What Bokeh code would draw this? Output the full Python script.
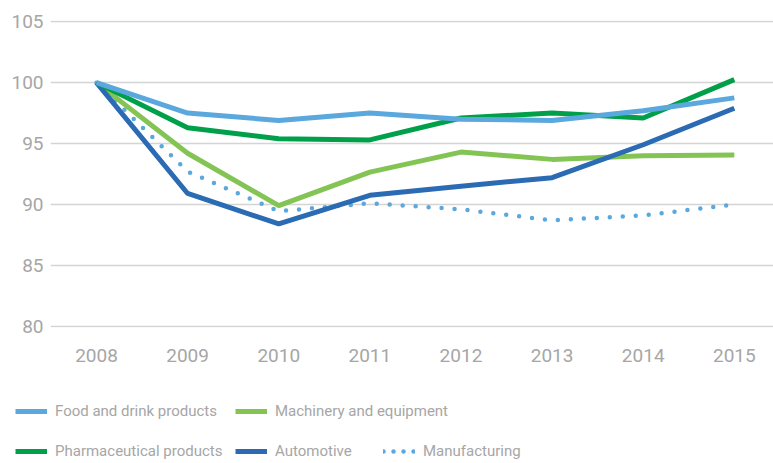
from bokeh.plotting import figure
from bokeh.layouts import column
from bokeh.models import Range1d, Legend, LegendItem, FixedTicker
from bokeh.embed import file_html
from bokeh.resources import INLINE

years = [2008, 2009, 2010, 2011, 2012, 2013, 2014, 2015]
food = [100, 97.5, 96.9, 97.5, 97.0, 96.9, 97.7, 98.75]
pharma = [100, 96.3, 95.4, 95.3, 97.1, 97.5, 97.1, 100.25]
machinery = [100, 94.2, 89.9, 92.65, 94.3, 93.7, 94.0, 94.05]
automotive = [100, 90.9, 88.4, 90.75, 91.5, 92.2, 94.9, 97.9]
manufacturing = [100, 92.7, 89.45, 90.1, 89.6, 88.7, 89.1, 90.0]
y_ticks = [80, 85, 90, 95, 100, 105]

FONT = "Roboto"
GREY = "#a6a6a6"
c_food = "#5aa8dd"
c_pharma = "#00a04b"
c_mach = "#84c455"
c_auto = "#2b6bb3"

p = figure(width=773, height=375, output_backend="svg", toolbar_location=None,
           x_range=Range1d(2007.495, 2015.43), y_range=Range1d(79.9, 105.1),
           min_border_left=50, min_border_right=0, min_border_top=20,
           min_border_bottom=48)
p.outline_line_color = None
p.xgrid.grid_line_color = None
p.ygrid.grid_line_color = "#d4d4d4"
p.ygrid.grid_line_width = 1.5

for ax in (p.xaxis, p.yaxis):
    ax.axis_line_color = None
    ax.major_tick_line_color = None
    ax.minor_tick_line_color = None
    ax.major_label_text_color = GREY
    ax.major_label_text_font = FONT
    ax.major_label_text_font_size = "19px"

p.yaxis.ticker = FixedTicker(ticks=y_ticks)
p.yaxis.major_label_standoff = 1
p.xaxis.ticker = FixedTicker(ticks=years)
p.xaxis.major_label_standoff = 15

def draw(fig, dot_dash):
    r_man = fig.line(years, manufacturing, line_color=c_food, line_width=4.5,
                     line_dash=dot_dash, line_cap="round")
    r_mach = fig.line(years, machinery, line_color=c_mach, line_width=5)
    r_auto = fig.line(years, automotive, line_color=c_auto, line_width=5)
    r_pharma = fig.line(years, pharma, line_color=c_pharma, line_width=5)
    r_food = fig.line(years, food, line_color=c_food, line_width=5)
    return r_food, r_mach, r_pharma, r_auto, r_man

draw(p, "0 13")

# Legend area (series drawn off-range so only the legend shows)
lf = figure(width=773, height=88, output_backend="svg", toolbar_location=None,
            x_range=Range1d(0, 1), y_range=Range1d(0, 1),
            x_axis_type=None, y_axis_type=None,
            min_border_left=0, min_border_right=0, min_border_top=0,
            min_border_bottom=0)
lf.outline_line_color = None
lf.xgrid.visible = False
lf.ygrid.visible = False
lr_food, lr_mach, lr_pharma, lr_auto, lr_man = draw(lf, "0 10")

dx = 0
if "frame_align" in lf.properties():
    lf.frame_align = False
    p.frame_align = False
else:
    dx = -50

def add_item(label, renderer, x, y):
    lg = Legend(items=[LegendItem(label=label, renderers=[renderer])],
                location=(x + dx, y), orientation="horizontal",
                border_line_alpha=0, background_fill_alpha=0, padding=0,
                margin=0, spacing=0, glyph_width=32, glyph_height=20,
                label_standoff=8, label_text_font=FONT,
                label_text_font_size="15px", label_text_color=GREY,
                label_height=20)
    lf.add_layout(lg, "center")

add_item("Food and drink products", lr_food, 15, 42)
add_item("Machinery and equipment", lr_mach, 235, 42)
add_item("Pharmaceutical products", lr_pharma, 15, 2)
add_item("Automotive", lr_auto, 235, 2)
add_item("Manufacturing", lr_man, 383, 2)

layout = column(p, lf, spacing=0)
open("out.html", "w").write(file_html(layout, INLINE))
